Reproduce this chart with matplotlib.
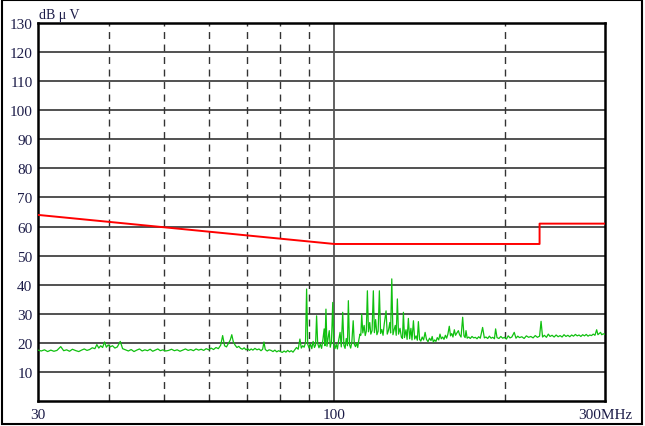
import matplotlib
matplotlib.use("Agg")
import matplotlib.pyplot as plt
from matplotlib.patches import Rectangle

# limit line (dBuV)
limit_freq = [30, 100, 230, 230, 300]
limit_level = [64, 54, 54, 61, 61]

freq = [30.0, 30.4, 30.8, 31.2, 31.6, 32.0, 32.4, 32.9, 33.3, 33.7, 34.1, 34.5, 35.0, 35.4, 35.8,
        36.2, 36.6, 37.0, 37.4, 37.8, 38.1, 38.4, 38.7, 39.0, 39.3, 39.6, 39.9, 40.2, 40.6, 41.0,
        41.4, 41.9, 42.3, 42.8, 43.3, 43.8, 44.3, 44.8, 45.3, 45.8, 46.3, 46.8, 47.3, 47.8, 48.3,
        48.8, 49.3, 49.8, 50.4, 51.0, 51.6, 52.2, 52.8, 53.4, 54.0, 54.6, 55.2, 55.8, 56.4, 57.0,
        57.6, 58.2, 58.8, 59.4, 60.0, 60.6, 61.2, 61.8, 62.4, 63.0, 63.5, 64.0, 64.5, 65.0, 65.5,
        65.9, 66.3, 66.8, 67.3, 67.8, 68.3, 68.8, 69.3, 69.8, 70.3, 70.8, 71.3, 71.8, 72.4, 73.0,
        73.6, 74.2, 74.7, 75.1, 75.5, 76.1, 76.7, 77.3, 77.9, 78.5, 79.1, 79.7, 80.3, 80.9, 81.5,
        82.1, 82.7, 83.3, 83.9, 84.5, 85.1, 85.7, 86.3, 86.9, 87.4, 87.9, 88.4, 88.9, 89.3, 89.7,
        90.2, 90.7, 91.2, 91.7, 92.2, 92.6, 93.0, 93.4, 93.9, 94.4, 94.9, 95.4, 95.9, 96.2, 96.6,
        97.0, 97.5, 97.9, 98.3, 98.8, 99.3, 99.7, 100.2, 100.7, 101.2, 101.7, 102.3, 102.8, 103.4,
        103.9, 104.4, 104.9, 105.4, 105.8, 106.3, 106.8, 107.3, 107.9, 108.4, 108.9, 109.4, 109.9,
        110.4, 110.9, 111.3, 111.7, 112.2, 112.8, 113.3, 113.8, 114.3, 114.8, 115.4, 115.9, 116.5,
        117.1, 117.6, 118.2, 118.8, 119.4, 120.0, 120.6, 121.2, 121.8, 122.4, 123.3, 123.9, 124.5,
        125.2, 125.6, 126.2, 126.8, 127.4, 128.0, 128.5, 129.1, 129.7, 130.5, 131.2, 131.8, 132.3,
        132.9, 133.7, 134.3, 135.0, 135.7, 136.4, 137.0, 137.8, 138.5, 139.3, 140.0, 140.6, 141.3,
        142.0, 142.8, 143.6, 144.5, 145.3, 146.2, 147.1, 148.0, 148.7, 149.4, 150.2, 151.0, 151.8,
        152.7, 153.5, 154.3, 155.2, 156.0, 156.9, 157.7, 158.5, 159.4, 160.2, 161.0, 161.8, 162.7,
        163.5, 164.4, 165.4, 166.2, 167.2, 168.3, 169.2, 170.0, 170.6, 171.4, 172.5, 173.6, 174.8,
        176.0, 177.2, 178.4, 179.6, 180.8, 182.5, 183.8, 185.0, 186.3, 187.6, 188.9, 190.2, 191.5,
        192.4, 193.5, 195.0, 196.5, 198.0, 199.5, 201.0, 202.5, 204.0, 205.5, 207.5, 209.0, 210.5,
        212.0, 214.0, 216.0, 218.0, 220.0, 222.0, 224.0, 226.0, 228.0, 230.0, 231.4, 232.8, 234.5,
        236.5, 238.3, 240.0, 242.0, 244.0, 246.0, 248.0, 250.0, 252.0, 254.0, 256.0, 258.0, 260.0,
        262.0, 264.0, 266.0, 268.0, 270.0, 272.0, 274.0, 276.0, 278.0, 280.0, 282.0, 284.0, 286.0,
        288.0, 290.0, 291.5, 293.0, 294.6, 296.0, 298.0, 300.0]
level = [17.5, 17.2, 17.6, 17.0, 17.5, 17.1, 17.4, 18.7, 17.3, 17.6, 17.1, 17.8, 17.3, 17.0, 17.5,
         17.9, 17.4, 17.7, 18.3, 18.0, 19.4, 18.2, 19.0, 18.4, 20.3, 18.5, 19.3, 18.6, 19.0, 18.2,
         18.6, 20.5, 18.0, 17.6, 17.2, 17.7, 17.0, 17.5, 17.9, 17.2, 17.6, 17.3, 17.8, 17.1, 17.5,
         17.9, 17.3, 17.6, 17.2, 17.4, 17.8, 17.3, 17.6, 17.1, 17.5, 17.9, 17.4, 17.7, 17.3, 17.9,
         17.5, 17.8, 17.4, 18.0, 17.6, 18.2, 17.7, 18.4, 18.0, 19.2, 22.5, 19.0, 18.6, 19.8, 21.0,
         22.8, 20.4, 19.2, 18.4, 18.8, 18.1, 17.8, 18.3, 17.6, 18.0, 17.4, 17.9, 17.5, 18.1, 17.6,
         17.9, 17.3, 17.8, 20.3, 17.7, 17.2, 17.6, 17.4, 17.0, 17.5, 16.9, 17.3, 17.0, 16.7, 17.2,
         16.8, 17.4, 16.9, 17.3, 16.8, 17.6, 18.4, 17.8, 21.3, 18.2, 19.0, 18.5, 20.0, 38.5, 19.5,
         18.2, 19.6, 18.0, 20.5, 18.4, 19.2, 29.3, 19.8, 18.3, 19.6, 18.1, 21.0, 24.8, 19.0, 31.6,
         18.8, 22.0, 24.2, 18.5, 20.5, 33.9, 19.4, 18.0, 19.5, 17.9, 20.8, 23.6, 18.6, 30.5,
         19.2, 18.1, 21.5, 19.0, 34.5, 19.4, 18.2, 20.2, 27.6, 19.5, 18.7, 20.0, 18.4,
         21.0, 23.0, 22.6, 29.9, 23.4, 26.0, 22.5, 24.0, 37.9, 23.8, 27.0, 23.0, 24.2,
         37.9, 23.5, 28.0, 22.8, 24.0, 37.9, 23.2, 24.6, 22.6, 26.5, 31.0, 23.0, 24.2,
         27.0, 23.4, 42.0, 22.8, 24.5, 26.0, 22.6, 35.1, 23.0, 25.0, 22.0, 21.5, 30.5,
         21.8, 24.5, 21.2, 28.4, 21.4, 25.0, 21.0, 27.6, 21.3, 22.4, 20.9, 27.3, 21.2,
         20.6, 22.0, 21.0, 23.6, 21.2, 20.4, 21.6, 20.8, 22.2, 20.3, 21.0, 20.5, 21.8,
         21.0, 23.0, 21.4, 22.0, 21.2, 22.6, 21.6, 23.0, 25.7, 22.4, 23.2, 22.0, 24.5,
         22.6, 23.4, 24.2, 22.8, 22.0, 28.8, 22.4, 21.8, 24.2, 21.6, 22.0, 21.5, 22.2,
         21.7, 21.9, 21.4, 22.1, 21.6, 25.3, 21.7, 22.0, 21.5, 22.3, 21.6, 21.9, 21.4,
         24.8, 21.8, 21.5, 22.2, 21.6, 21.9, 21.3, 22.4, 21.7, 22.0, 23.6, 21.6, 22.3,
         21.8, 22.1, 21.5, 22.4, 21.9, 22.2, 21.7, 22.5, 21.9, 22.3, 27.4, 22.0, 22.6,
         21.9, 23.0, 22.2, 22.6, 22.0, 22.7, 22.1, 22.5, 22.0, 22.8, 22.2, 22.6, 22.1,
         22.7, 22.3, 22.9, 22.4, 22.7, 22.2, 22.8, 22.4, 22.9, 22.3, 22.7, 22.5, 23.0,
         22.6, 24.5, 22.8, 23.2, 23.6, 22.8, 23.1, 22.9]

yticks = list(range(10, 140, 10))
xticks = [30, 100, 300]
xlabels = ['30', '100', '300MHz']
dashed_freqs = [40, 50, 60, 70, 80, 90, 200]

plt.rcParams['font.family'] = ['Liberation Serif', 'DejaVu Serif']
txt_color = '#1c1c48'

fig = plt.figure(figsize=(6.45, 4.27), dpi=100)
ax = fig.add_axes([38/645, 25/427, 567/645, 378/427])

for yv in yticks:
    ax.axhline(yv, color='#222222', lw=1.1, zorder=1)
for fv in dashed_freqs:
    ax.axvline(fv, color='#333333', lw=1.0, ls=(0, (5, 4)), zorder=1)
ax.axvline(100, color='#555555', lw=1.3, zorder=1)

ax.plot(freq, level, color='#10c010', lw=0.9, zorder=3)
ax.plot(limit_freq, limit_level, color='#ff0000', lw=1.4, zorder=4)

ax.set_xscale('log')
ax.set_xlim(30, 300)
ax.set_ylim(0, 130)
ax.set_xticks(xticks)
ax.set_xticklabels(xlabels)
ax.xaxis.set_minor_locator(matplotlib.ticker.NullLocator())
ax.set_yticks(yticks)
ax.tick_params(length=0, labelsize=11, labelcolor=txt_color)
ax.tick_params(axis='x', pad=5)
ax.tick_params(axis='y', pad=4)
for s in ax.spines.values():
    s.set_linewidth(1.8)
    s.set_color('black')

fig.text(39/645, 1 - 16/427, 'dB μ V', fontsize=10, color=txt_color, ha='left', va='center')

fig.patches.append(Rectangle((2/645, 2/427), 640/645, 424/427, transform=fig.transFigure,
                             fill=False, lw=1.5, edgecolor='black'))

fig.savefig('out.png', dpi=100)
